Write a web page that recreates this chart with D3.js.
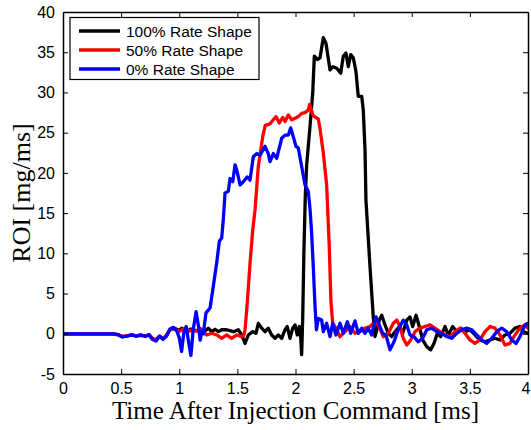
<!DOCTYPE html>
<html>
<head>
<meta charset="utf-8">
<script src="https://cdn.jsdelivr.net/npm/d3@7"></script>
<style>
  html, body { margin: 0; padding: 0; background: #fff; }
  svg { display: block; }
</style>
</head>
<body>
<svg id="chart" width="531" height="430"></svg>
<script>
// ---- data (time [ms], ROI [mg/ms]) ----
const seriesNames = ["100% Rate Shape", "50% Rate Shape", "0% Rate Shape"];
const seriesColors = ["#000000", "#ff0000", "#0000ff"];
const xTicks = [0, 0.5, 1, 1.5, 2, 2.5, 3, 3.5, 4];
const yTicks = [-5, 0, 5, 10, 15, 20, 25, 30, 35, 40];
const xLabel = "Time After Injection Command [ms]";
const yLabel = "ROI [mg/ms]";

const rate100 = [[0,0],[0.43,0],[0.47,-0.1],[0.51,-0.35],[0.55,-0.25],[0.59,-0.15],[0.63,-0.25],[0.67,-0.15],[0.71,-0.3],[0.74,-0.1],[0.77,-0.6],[0.80,-0.75],[0.83,-0.3],[0.86,-0.6],[0.89,-0.2],[0.92,0.5],[0.96,0.7],[1.0,0.4],[1.02,0.7],[1.06,0.3],[1.10,0.6],[1.14,0.4],[1.18,0.5],[1.22,0.3],[1.250,0.7],[1.279,0.26],[1.308,0.56],[1.336,0.26],[1.365,0.5],[1.408,0.5],[1.465,0.26],[1.508,0.5],[1.537,-0.15],[1.566,-1.2],[1.594,-0.15],[1.632,0.26],[1.660,0.06],[1.680,1.3],[1.709,0.7],[1.738,0.26],[1.766,0.7],[1.795,-0.15],[1.824,-0.56],[1.852,-0.15],[1.881,-0.56],[1.910,0.5],[1.929,0.9],[1.953,-0.56],[1.976,0.7],[1.996,1.1],[2.015,-0.15],[2.033,0.9],[2.045,-0.5],[2.053,-2.6],[2.062,2.0],[2.072,10.0],[2.084,17.0],[2.096,21.0],[2.125,25.8],[2.148,29.9],[2.162,34.5],[2.188,34.1],[2.211,34.3],[2.239,36.8],[2.262,36.1],[2.297,32.8],[2.320,33.2],[2.355,33.0],[2.389,32.4],[2.411,34.5],[2.434,34.9],[2.454,33.2],[2.475,34.7],[2.497,34.3],[2.520,32.6],[2.540,29.5],[2.570,29.5],[2.583,27.8],[2.598,22.9],[2.606,16.6],[2.641,8.3],[2.669,2.1],[2.684,-0.36],[2.721,1.7],[2.742,2.3],[2.770,1.1],[2.798,0.06],[2.828,-0.36],[2.856,0.26],[2.893,0.9],[2.922,0.06],[2.957,1.7],[2.985,2.1],[3.008,0.9],[3.037,2.3],[3.065,0.9],[3.094,-0.77],[3.129,-1.6],[3.163,-2.0],[3.191,-1.2],[3.220,0.06],[3.249,-0.36],[3.286,0.9],[3.314,-0.15],[3.352,0.9],[3.387,0.26],[3.421,0.7],[3.458,0.26],[3.501,0.5],[3.544,-0.15],[3.587,-0.77],[3.630,-1.0],[3.673,-0.77],[3.716,-0.56],[3.759,-0.77],[3.802,-0.15],[3.845,0.06],[3.888,0.7],[3.931,0.9],[3.959,0.26],[4.0,0.06]];

const rate50 = [[0,0],[0.43,0],[0.47,-0.1],[0.51,-0.35],[0.55,-0.25],[0.59,-0.15],[0.63,-0.25],[0.67,-0.15],[0.71,-0.3],[0.74,-0.1],[0.77,-0.6],[0.80,-0.75],[0.83,-0.3],[0.86,-0.6],[0.89,-0.2],[0.92,0.5],[0.96,0.6],[1.0,0.3],[1.049,0.7],[1.08,0.3],[1.121,0.5],[1.15,0.3],[1.178,0.7],[1.21,0.2],[1.236,-0.15],[1.279,0.06],[1.322,-0.15],[1.365,-0.56],[1.408,-0.15],[1.451,-0.56],[1.494,-0.15],[1.537,-0.36],[1.555,-0.2],[1.566,0.5],[1.585,3.8],[1.609,8.8],[1.632,12.9],[1.652,15.4],[1.680,20.8],[1.718,24.5],[1.740,25.9],[1.781,26.1],[1.809,26.6],[1.832,27.0],[1.861,26.2],[1.890,26.9],[1.910,26.4],[1.938,27.2],[1.967,26.6],[1.996,26.8],[2.024,27.0],[2.053,27.4],[2.082,27.5],[2.110,27.8],[2.122,28.5],[2.153,27.1],[2.196,26.7],[2.211,25.5],[2.239,22.5],[2.268,18.5],[2.29,11],[2.305,4],[2.32,1.3],[2.340,0.9],[2.355,0.5],[2.383,-0.36],[2.426,0.26],[2.469,0.9],[2.512,0.06],[2.555,0.26],[2.598,0.7],[2.641,0.9],[2.684,1.5],[2.712,1.1],[2.755,-0.36],[2.798,0.06],[2.841,1.3],[2.871,1.7],[2.899,0.9],[2.927,-0.56],[2.957,-1.4],[2.991,-0.77],[3.028,0.26],[3.071,0.7],[3.114,0.9],[3.157,1.1],[3.200,0.7],[3.243,0.26],[3.286,-0.15],[3.329,-0.36],[3.372,0.26],[3.415,0.7],[3.458,0.06],[3.501,-0.77],[3.544,-1.2],[3.587,-0.77],[3.630,0.26],[3.673,0.9],[3.716,0.7],[3.759,-0.15],[3.802,-1.4],[3.845,-1.2],[3.888,-0.15],[3.931,0.7],[3.974,1.1],[4.0,0.7]];

const rate0 = [[0,0],[0.43,0],[0.47,-0.1],[0.51,-0.4],[0.55,-0.3],[0.59,-0.15],[0.63,-0.3],[0.67,-0.2],[0.71,-0.3],[0.74,-0.15],[0.77,-0.7],[0.80,-0.9],[0.83,-0.3],[0.86,-0.7],[0.89,-0.3],[0.92,0.6],[0.95,0.8],[0.98,0.3],[1.00,-0.5],[1.02,-2.2],[1.04,0.2],[1.06,0.9],[1.08,-1.0],[1.10,-2.7],[1.12,0.5],[1.145,2.75],[1.165,1.0],[1.18,-0.8],[1.195,0.3],[1.207,0],[1.23,2.6],[1.265,3.2],[1.293,5.9],[1.322,8.8],[1.345,11.5],[1.365,11.9],[1.379,14.2],[1.394,17.5],[1.422,17.7],[1.437,19.3],[1.460,18.9],[1.480,21.0],[1.494,20.4],[1.523,18.5],[1.551,18.9],[1.585,19.5],[1.609,19.1],[1.637,22.0],[1.666,22.4],[1.695,22.2],[1.738,23.3],[1.766,22.4],[1.781,21.4],[1.809,22.4],[1.838,21.8],[1.881,24.3],[1.910,24.7],[1.938,24.7],[1.959,25.6],[1.981,24.5],[2.004,23.3],[2.024,23.1],[2.053,20.8],[2.082,18.5],[2.110,17.7],[2.125,15.5],[2.139,12.5],[2.153,8.3],[2.168,3.4],[2.18,0.5],[2.196,1.9],[2.225,1.7],[2.239,0.26],[2.268,1.3],[2.297,-0.36],[2.320,1.3],[2.348,-0.15],[2.383,1.3],[2.411,0.06],[2.446,1.5],[2.475,0.06],[2.512,1.6],[2.540,0.06],[2.570,0.7],[2.598,0.06],[2.626,0.7],[2.655,-0.15],[2.692,2.1],[2.721,1.1],[2.750,0.06],[2.778,-0.15],[2.813,-2.0],[2.847,-1.0],[2.884,0.5],[2.927,1.7],[2.957,1.1],[2.985,-0.15],[3.019,-0.36],[3.056,-1.0],[3.094,-0.56],[3.129,0.5],[3.172,0.7],[3.215,0.26],[3.258,0.06],[3.301,-0.36],[3.344,-0.56],[3.387,0.06],[3.430,0.5],[3.473,0.7],[3.516,0.5],[3.559,-0.15],[3.602,-0.77],[3.645,-1.2],[3.688,-0.56],[3.731,0.26],[3.774,0.7],[3.817,0.26],[3.860,-0.77],[3.897,-1.2],[3.931,-0.36],[3.974,1.1],[4.0,1.3]];

const seriesData = [rate100, rate50, rate0];

// ---- layout ----
const svg = d3.select("#chart");
const plot = { left: 63, right: 528, top: 12, bottom: 374 };
const x = d3.scaleLinear().domain([0, 4]).range([plot.left, plot.right]);
const y = d3.scaleLinear().domain([-5, 40]).range([plot.bottom, plot.top]);

const tickFont = "'Liberation Sans', Arial, sans-serif";
const labelFont = "'Liberation Serif', 'Times New Roman', serif";

svg.append("defs").append("clipPath").attr("id", "clip")
  .append("rect").attr("x", plot.left).attr("y", plot.top)
  .attr("width", plot.right - plot.left).attr("height", plot.bottom - plot.top);

const line = d3.line().x(d => x(d[0])).y(d => y(d[1]));
const g = svg.append("g").attr("clip-path", "url(#clip)");
seriesData.forEach((data, i) => {
  g.append("path").datum(data)
    .attr("d", line)
    .attr("fill", "none")
    .attr("stroke", seriesColors[i])
    .attr("stroke-width", 3.3)
    .attr("stroke-linejoin", "round")
    .attr("stroke-linecap", "round");
});

// axes (MATLAB style: inward ticks, box)
const tickLen = 5;
const axB = svg.append("g").attr("transform", `translate(0,${plot.bottom})`)
  .call(d3.axisBottom(x).tickValues(xTicks).tickSizeInner(-tickLen).tickSizeOuter(0).tickPadding(9).tickFormat(d => String(d)));
const axT = svg.append("g").attr("transform", `translate(0,${plot.top})`)
  .call(d3.axisTop(x).tickValues(xTicks).tickSizeInner(-tickLen).tickSizeOuter(0).tickFormat(""));
const axL = svg.append("g").attr("transform", `translate(${plot.left},0)`)
  .call(d3.axisLeft(y).tickValues(yTicks).tickSizeInner(-tickLen).tickSizeOuter(0).tickPadding(8).tickFormat(d => String(d)));
const axR = svg.append("g").attr("transform", `translate(${plot.right},0)`)
  .call(d3.axisRight(y).tickValues(yTicks).tickSizeInner(-tickLen).tickSizeOuter(0).tickFormat(""));

[axB, axT, axL, axR].forEach(a => {
  a.select(".domain").attr("stroke", "#000").attr("stroke-width", 1.5);
  a.selectAll(".tick line").attr("stroke", "#000").attr("stroke-width", 1);
  a.selectAll("text").attr("font-family", tickFont).attr("font-size", 16).attr("fill", "#000");
});
// keep the last x label inside the canvas
axB.selectAll(".tick text").filter(d => d === 4).attr("dx", -2.5);

// axis labels
svg.append("text")
  .attr("x", (plot.left + plot.right) / 2).attr("y", 419)
  .attr("text-anchor", "middle")
  .attr("font-family", labelFont).attr("font-size", 25)
  .text(xLabel);
svg.append("text")
  .attr("transform", `translate(30,${(plot.top + plot.bottom) / 2}) rotate(-90)`)
  .attr("text-anchor", "middle")
  .attr("font-family", labelFont).attr("font-size", 26)
  .text(yLabel);

// legend
const leg = svg.append("g");
leg.append("rect").attr("x", 70).attr("y", 17.5).attr("width", 189).attr("height", 62)
  .attr("fill", "#fff").attr("stroke", "#000").attr("stroke-width", 1.2);
seriesNames.forEach((name, i) => {
  const yy = 31 + i * 19;
  leg.append("line").attr("x1", 79).attr("x2", 120).attr("y1", yy).attr("y2", yy)
    .attr("stroke", seriesColors[i]).attr("stroke-width", 3.3);
  leg.append("text").attr("x", 126).attr("y", yy).attr("dy", "0.36em")
    .attr("font-family", tickFont).attr("font-size", 15.5).text(name);
});
</script>
</body>
</html>
